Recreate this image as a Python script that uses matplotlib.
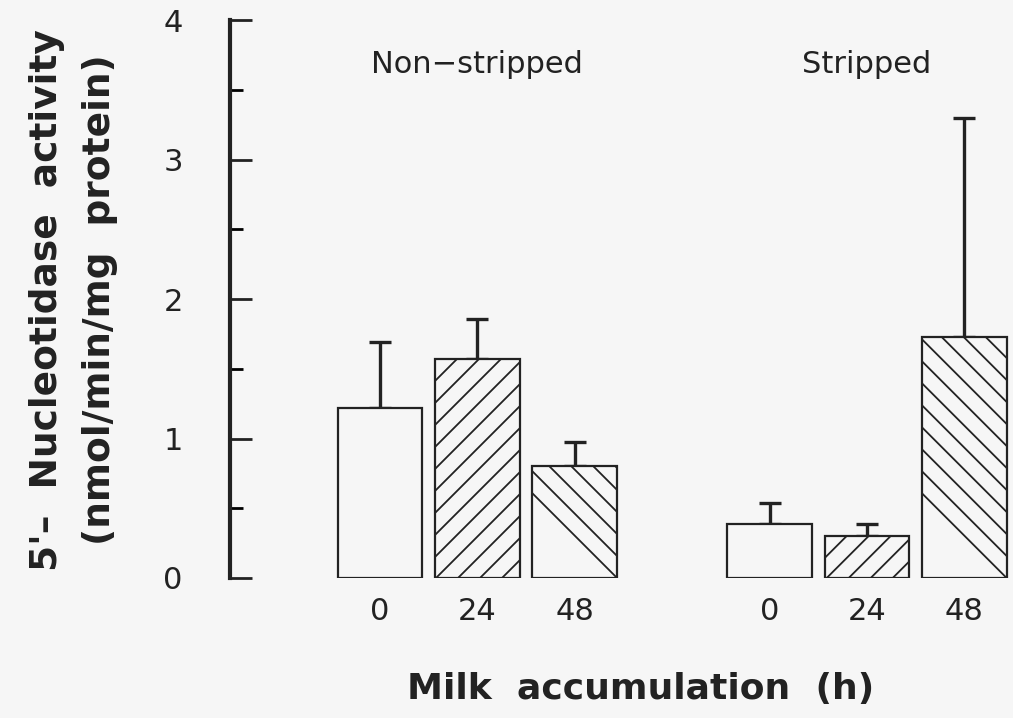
import numpy as np
import matplotlib.pyplot as plt

# values (nmol/min/mg protein)
hours = ['0', '24', '48', '0', '24', '48']
groups = ['Non\u2212stripped', 'Stripped']
activity = [1.22, 1.57, 0.80, 0.39, 0.30, 1.73]
err = [0.47, 0.29, 0.175, 0.15, 0.09, 1.57]
hatch_dir = [0, 1, -1, 0, 1, -1]   # 0 none, 1 '/', -1 '\'

pos = np.array([0, 1, 2, 4, 5, 6])
bg = '#f6f6f6'
ink = '#222222'

plt.rcParams['font.family'] = ['DejaVu Sans']

fig = plt.figure(figsize=(10.13, 7.18), dpi=100, facecolor=bg)
ax = fig.add_axes([0.227, 0.195, 0.773, 0.777], facecolor=bg)
ax.set_xlim(-1.54, 6.5)
ax.set_ylim(0, 4)

# data units per pixel, for sparse diagonal hatching
bbox = ax.get_position()
xpp = 8.04 / (bbox.width * 1013)
ypp = 4.0 / (bbox.height * 718)
step = 22  # px between hatch lines

w = 0.87
for p, v, e, d in zip(pos, activity, err, hatch_dir):
    bars = ax.bar(p, v, width=w, color=bg, edgecolor=ink, linewidth=1.6, zorder=2)
    ax.errorbar(p, v, yerr=[[0], [e]], fmt='none', ecolor=ink, elinewidth=2.4,
                capsize=8, capthick=2.4, zorder=1)
    if d != 0:
        rect = bars.patches[0]
        x0 = p - w / 2
        hpx = v / ypp
        wpx = w / xpp
        for k in np.arange(-hpx, wpx + hpx, step):
            xs = np.array([k, k + hpx + wpx]) if d > 0 else np.array([k + hpx + wpx, k])
            ys = np.array([0, hpx + wpx])
            ln, = ax.plot(x0 + xs * xpp, ys * ypp, color=ink, lw=1.3, zorder=3)
            ln.set_clip_path(rect)

ax.set_yticks([0, 1, 2, 3, 4])
ax.set_yticks([0.5, 1.5, 2.5, 3.5], minor=True)
ax.tick_params(axis='y', which='major', direction='in', length=16, width=2, pad=34,
               labelsize=22, colors=ink)
ax.tick_params(axis='y', which='minor', direction='in', length=9, width=2)
ax.set_xticks(pos)
ax.set_xticklabels(hours)
ax.tick_params(axis='x', length=0, pad=14, labelsize=22, colors=ink)

for s in ['top', 'right', 'bottom']:
    ax.spines[s].set_visible(False)
ax.spines['left'].set_linewidth(3)
ax.spines['left'].set_color(ink)

ax.text(1, 3.68, groups[0], ha='center', va='center', fontsize=22, color=ink)
ax.text(5, 3.68, groups[1], ha='center', va='center', fontsize=22, color=ink)

fig.text(0.632, 0.04, 'Milk  accumulation  (h)', ha='center', va='center', fontsize=26,
         fontweight='bold', color=ink)
fig.text(0.046, 0.582, "5'\u2013  Nucleotidase  activity", rotation=90, ha='center',
         va='center', fontsize=27, fontweight='bold', color=ink)
fig.text(0.099, 0.582, '(nmol/min/mg  protein)', rotation=90, ha='center', va='center',
         fontsize=27, fontweight='bold', color=ink)

fig.savefig('out.png', dpi=100, facecolor=bg)
